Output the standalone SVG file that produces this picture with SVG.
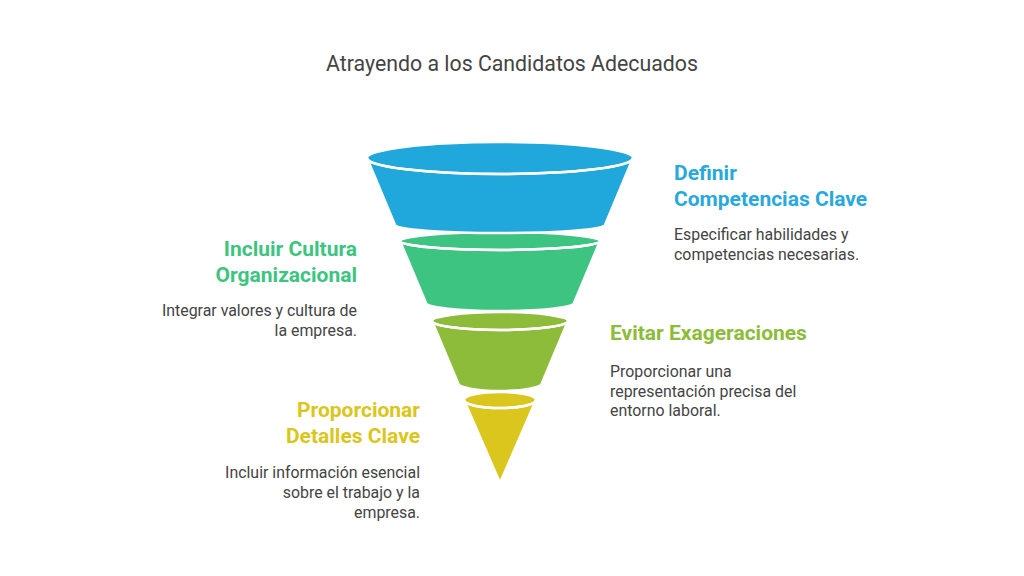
<svg xmlns="http://www.w3.org/2000/svg" width="1024" height="576" viewBox="0 0 1024 576">
<style>
.seg{stroke:#fff;stroke-width:2.5;stroke-linejoin:round}
.line{fill:none;stroke:#fff;stroke-width:2.5}
.title{font-family:Roboto,"Liberation Sans",sans-serif;font-size:21.3px;fill:#444}
.h{font-family:Roboto,"Liberation Sans",sans-serif;font-size:21px;font-weight:bold}
.d{font-family:Roboto,"Liberation Sans",sans-serif;font-size:15.9px;fill:#444}
.r{text-anchor:end}
</style>
<rect width="1024" height="576" fill="#fff"/>
<text class="title" x="512" y="71" text-anchor="middle">Atrayendo a los Candidatos Adecuados</text>
<g id="seg4">
<path class="seg" fill="#DAC61C" d="M464 400 L500 483 L536 400 Z"/>
<ellipse class="seg" fill="#DAC61C" cx="500" cy="400" rx="36" ry="8"/>
<path class="line" d="M464 400 A36 8 0 0 0 536 400"/>
</g>
<g id="seg3">
<path class="seg" fill="#8DBC3A" d="M432 321 L458 383 A42 8 0 0 0 542 383 L568 321 Z"/>
<ellipse class="seg" fill="#8DBC3A" cx="500" cy="321" rx="68" ry="9"/>
<path class="line" d="M432 321 A68 9 0 0 0 568 321"/>
</g>
<g id="seg2">
<path class="seg" fill="#3DC481" d="M400 241 L426 303 A74 8 0 0 0 574 303 L600 241 Z"/>
<ellipse class="seg" fill="#3DC481" cx="500" cy="241" rx="100" ry="9"/>
<path class="line" d="M400 241 A100 9 0 0 0 600 241"/>
</g>
<g id="seg1">
<path class="seg" fill="#20A8DC" d="M367 158 L395 225 A105 8 0 0 0 605 225 L633 158 Z"/>
<ellipse class="seg" fill="#20A8DC" cx="500" cy="158" rx="133" ry="16"/>
<path class="line" d="M367 158 A133 16 0 0 0 633 158"/>
</g>
<g id="label1">
<text class="h" fill="#29A9DB" x="674" y="180">Definir</text>
<text class="h" fill="#29A9DB" x="674" y="206">Competencias Clave</text>
<text class="d" x="674" y="240">Especificar habilidades y</text>
<text class="d" x="674" y="260">competencias necesarias.</text>
</g>
<g id="label2">
<text class="h r" fill="#3DC481" x="357" y="256">Incluir Cultura</text>
<text class="h r" fill="#3DC481" x="357" y="282">Organizacional</text>
<text class="d r" x="357" y="316">Integrar valores y cultura de</text>
<text class="d r" x="357" y="336">la empresa.</text>
</g>
<g id="label3">
<text class="h" fill="#8DBC3A" x="610" y="340">Evitar Exageraciones</text>
<text class="d" x="610" y="377">Proporcionar una</text>
<text class="d" x="610" y="397">representación precisa del</text>
<text class="d" x="610" y="416">entorno laboral.</text>
</g>
<g id="label4">
<text class="h r" fill="#DAC61C" x="420" y="417">Proporcionar</text>
<text class="h r" fill="#DAC61C" x="420" y="443">Detalles Clave</text>
<text class="d r" x="420" y="478">Incluir información esencial</text>
<text class="d r" x="420" y="498">sobre el trabajo y la</text>
<text class="d r" x="420" y="518">empresa.</text>
</g>
<g id="connectors"></g>
</svg>
